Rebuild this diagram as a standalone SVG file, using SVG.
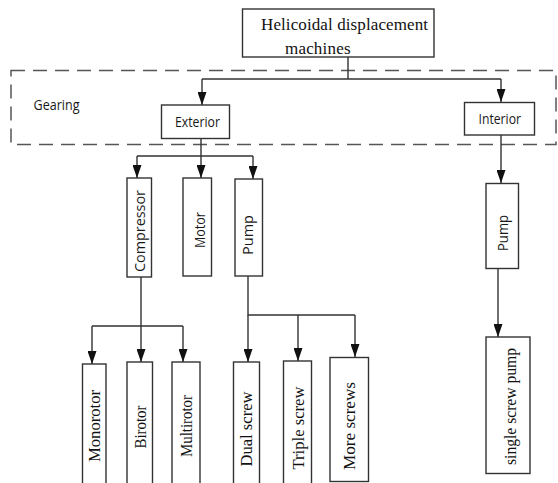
<svg xmlns="http://www.w3.org/2000/svg" width="558" height="483" viewBox="0 0 558 483">
<defs>
<marker id="ah" markerUnits="userSpaceOnUse" markerWidth="13" markerHeight="9" viewBox="0 0 13 9" refX="13" refY="4.5" orient="auto">
<path d="M0,0 L13,4.5 L0,9 z" fill="#111"/>
</marker>
<style>
.box{fill:#fff;stroke:#333;stroke-width:1.4}
.dash{fill:none;stroke:#555;stroke-width:1.5;stroke-dasharray:14 8}
.ln{fill:none;stroke:#333;stroke-width:1.4}
.ar{fill:none;stroke:#333;stroke-width:1.4;marker-end:url(#ah)}
.sans{font-family:"Open Sans","Liberation Sans",sans-serif;fill:#1a1a1a}
.serif{font-family:"Liberation Serif","Times New Roman",serif;fill:#111}
.rot{dominant-baseline:central;text-anchor:middle}
</style>
</defs>
<rect width="558" height="483" fill="#fff"/>

<g id="gearing">
<rect class="dash" x="11" y="70.5" width="545" height="74"/>
<text class="sans" x="33.5" y="109.5" font-size="15" textLength="46" lengthAdjust="spacingAndGlyphs">Gearing</text>
</g>

<g id="connectors">
<path class="ln" d="M348,57 V79 M202,79 H501"/>
<path class="ar" d="M202,79 V105"/>
<path class="ar" d="M501,79 V102"/>
<path class="ln" d="M201,138 V156 M137,156 H253"/>
<path class="ar" d="M137,156 V178"/>
<path class="ar" d="M201,156 V178"/>
<path class="ar" d="M253,156 V179"/>
<path class="ln" d="M141,277 V326 M92,326 H183"/>
<path class="ar" d="M141,326 V362"/>
<path class="ar" d="M92,326 V364"/>
<path class="ar" d="M183,326 V362"/>
<path class="ln" d="M248,276 V315 H355"/>
<path class="ar" d="M248,315 V362"/>
<path class="ar" d="M298,315 V361"/>
<path class="ar" d="M355,315 V357"/>
<path class="ar" d="M501,135 V183"/>
<path class="ar" d="M498,268 V337"/>
</g>

<g id="root">
<rect class="box" x="242.5" y="9" width="191.5" height="48"/>
<text class="serif" x="261" y="29.5" font-size="17" textLength="167">Helicoidal displacement</text>
<text class="serif" x="285" y="54" font-size="17" textLength="65.5">machines</text>
</g>

<g id="exterior">
<rect class="box" x="161.5" y="105" width="68" height="33.5"/>
<text class="sans" x="175" y="127" font-size="14.5" textLength="45" lengthAdjust="spacingAndGlyphs">Exterior</text>
</g>

<g id="interior">
<rect class="box" x="464.5" y="102.5" width="70" height="32.5"/>
<text class="sans" x="478.5" y="124" font-size="14.5" textLength="42.5" lengthAdjust="spacingAndGlyphs">Interior</text>
</g>

<g id="compressor">
<rect class="box" x="127" y="178" width="24.5" height="99"/>
<text class="sans rot" transform="translate(139,231) rotate(-90)" font-size="14.5" textLength="82" lengthAdjust="spacingAndGlyphs">Compressor</text>
</g>

<g id="motor">
<rect class="box" x="183" y="178" width="28.5" height="98"/>
<text class="sans rot" transform="translate(199,230) rotate(-90)" font-size="14.5" textLength="36" lengthAdjust="spacingAndGlyphs">Motor</text>
</g>

<g id="pump-ext">
<rect class="box" x="235" y="179" width="27.5" height="97"/>
<text class="sans rot" transform="translate(247,235) rotate(-90)" font-size="14.5" textLength="40" lengthAdjust="spacingAndGlyphs">Pump</text>
</g>

<g id="pump-int">
<rect class="box" x="486" y="183.5" width="32.5" height="85"/>
<text class="sans rot" transform="translate(502,233) rotate(-90)" font-size="14" textLength="36" lengthAdjust="spacingAndGlyphs">Pump</text>
</g>

<g id="monorotor">
<rect class="box" x="82.5" y="364" width="23.5" height="130"/>
<text class="serif rot" transform="translate(94.5,426) rotate(-90)" font-size="17" textLength="72" lengthAdjust="spacingAndGlyphs">Monorotor</text>
</g>

<g id="birotor">
<rect class="box" x="127" y="362" width="25.5" height="132"/>
<text class="serif rot" transform="translate(140,427) rotate(-90)" font-size="17" textLength="43" lengthAdjust="spacingAndGlyphs">Birotor</text>
</g>

<g id="multirotor">
<rect class="box" x="172" y="362" width="28" height="132"/>
<text class="serif rot" transform="translate(186,426) rotate(-90)" font-size="17" textLength="62" lengthAdjust="spacingAndGlyphs">Multirotor</text>
</g>

<g id="dual-screw">
<rect class="box" x="233.5" y="362" width="26" height="132"/>
<text class="serif rot" transform="translate(246.5,429) rotate(-90)" font-size="17" textLength="75" lengthAdjust="spacingAndGlyphs">Dual screw</text>
</g>

<g id="triple-screw">
<rect class="box" x="283.5" y="361" width="28" height="133"/>
<text class="serif rot" transform="translate(298,428) rotate(-90)" font-size="17" textLength="83" lengthAdjust="spacingAndGlyphs">Triple screw</text>
</g>

<g id="more-screws">
<rect class="box" x="330" y="357.5" width="38.5" height="124"/>
<text class="serif rot" transform="translate(349,426) rotate(-90)" font-size="17.5" textLength="88" lengthAdjust="spacingAndGlyphs">More screws</text>
</g>

<g id="single-screw-pump">
<rect class="box" x="486" y="337" width="44" height="136.5"/>
<text class="serif rot" transform="translate(510,406.5) rotate(-90)" font-size="16" textLength="117" lengthAdjust="spacingAndGlyphs">single screw pump</text>
</g>
</svg>
